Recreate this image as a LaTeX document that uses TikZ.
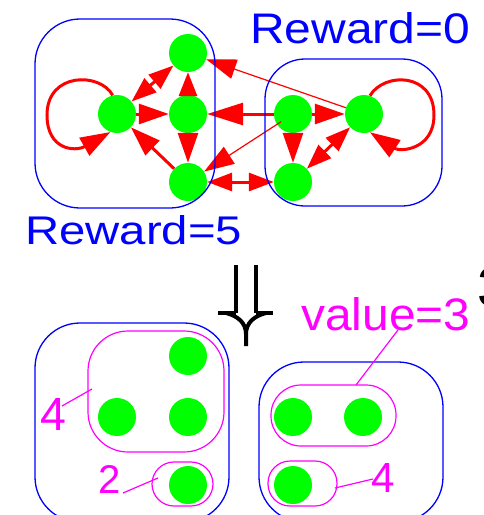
\documentclass[tikz,border=0pt]{standalone}
\usepackage{fontspec}
\setmainfont{Liberation Sans}
\usetikzlibrary{arrows.meta}
\definecolor{stgreen}{RGB}{0,255,0}
\definecolor{arred}{RGB}{255,0,0}
\definecolor{grpblue}{RGB}{0,0,255}
\definecolor{valmag}{RGB}{255,0,255}
\tikzset{
  st/.style={circle,fill=stgreen,minimum size=38pt,inner sep=0pt},
  grp/.style={draw=grpblue,line width=1.3pt},
  vgrp/.style={draw=valmag,line width=1.2pt},
  thk/.style={draw=arred,line width=3pt,-{Triangle[length=30pt,width=20pt]}},
  thn/.style={draw=arred,line width=1.2pt,-{Triangle[length=30pt,width=20pt]}},
  dbl/.style={draw=arred,line width=3pt,{Triangle[length=25pt,width=18pt]}-{Triangle[length=25pt,width=18pt]}},
  lab/.style={inner sep=0pt,anchor=base west},
  lead/.style={draw=valmag,line width=1.2pt},
  implies/.style={draw=black,line width=4pt},
}
\begin{document}
\begin{tikzpicture}[x=1pt,y=-1pt]
\useasboundingbox (0,0) rectangle (484,515);

% ---- original graph ----
\node[st] (A) at (188,53) {};
\node[st] (B) at (117,114) {};
\node[st] (C) at (188,114) {};
\node[st] (D) at (188,182) {};
\node[st] (E) at (293,114) {};
\node[st] (F) at (364,114) {};
\node[st] (G) at (293,182) {};

\draw[thk] (B.103) .. controls (100,72) and (47,72) .. (47,115)
           .. controls (47,150) and (75,152) .. (B.250);
\draw[thk] (F.72) .. controls (384,72) and (434,72) .. (434,115)
           .. controls (434,150) and (400,152) .. (F.288);
\draw[dbl] (B) -- (A);
\draw[thk] (B) -- (C);
\draw[thk,-{Triangle[length=24pt,width=18pt]}] (C) -- (A);
\draw[thk] (C) -- (D);
\draw[thk] (D) -- (B);
\draw[thk,-{Triangle[length=36pt,width=22pt]}] (E) -- (C);
\draw[thn] (F) -- (A);
\draw[thn,shorten <=-5pt] (E) -- (D);
\draw[dbl] (D) -- (G);
\draw[thk] (E) -- (F);
\draw[thk] (E) -- (G);
\draw[dbl] (G) -- (F);

\draw[grp,rounded corners=45pt] (35,19) rectangle (215,208);
\draw[grp,rounded corners=40pt] (265,59) rectangle (442,206);

\node[lab,text=grpblue] (r0) at (250,43) {\resizebox{220pt}{31pt}{Reward=0}};
\node[lab,text=grpblue] (r5) at (25,244) {\resizebox{217pt}{29pt}{Reward=5}};

% ---- implies (double downward arrow) ----
\draw[implies] (236,265) -- (236,313);
\draw[implies] (256,265) -- (256,313);
\draw[implies] (218,313) -- (236,313);
\draw[implies] (256,313) -- (273,313);
\draw[implies] (226,313) .. controls (238,316) and (246,323) .. (246,334) -- (246,346);
\draw[implies] (266,313) .. controls (254,316) and (246,323) .. (246,334);

% ---- reduced graph ----
\node[st] (a) at (188,356) {};
\node[st] (b) at (117,417) {};
\node[st] (c) at (188,417) {};
\node[st] (d) at (188,485) {};
\node[st] (e) at (293,417) {};
\node[st] (f) at (363,417) {};
\node[st] (g) at (293,485) {};

\draw[vgrp,rounded corners=40pt] (88,331) rectangle (224,452);
\draw[vgrp,rounded corners=22pt] (152,462) rectangle (213,506);
\draw[vgrp,rounded corners=30pt] (271,385) rectangle (396,446);
\draw[vgrp,rounded corners=22pt] (268,461) rectangle (337,506);

\draw[grp,rounded corners=45pt] (35,323) rectangle (229,522);
\draw[grp,rounded corners=45pt] (259,362) rectangle (443,522);

\node[lab,text=valmag] (v3) at (301,330) {\resizebox{169pt}{33pt}{value=3}};
\node[lab,text=valmag] (n4a) at (40,430) {\resizebox{!}{32pt}{4}};
\node[lab,text=valmag] (n2) at (98,493) {\resizebox{!}{28pt}{2}};
\node[lab,text=valmag] (n4b) at (371,492) {\resizebox{!}{29pt}{4}};
\node[lab] (k3) at (477,306) {\resizebox{!}{39pt}{3}};

\coordinate (v3a) at (398,330);
\coordinate (v3b) at (356,385);
\draw[lead] (v3a) -- (v3b);
\coordinate (n4aa) at (62,406);
\coordinate (n4ab) at (92,389);
\draw[lead] (n4aa) -- (n4ab);
\coordinate (n2a) at (123,493);
\coordinate (n2b) at (158,478);
\draw[lead] (n2a) -- (n2b);
\coordinate (n4ba) at (335,488);
\coordinate (n4bb) at (373,479);
\draw[lead] (n4ba) -- (n4bb);
\end{tikzpicture}
\end{document}
